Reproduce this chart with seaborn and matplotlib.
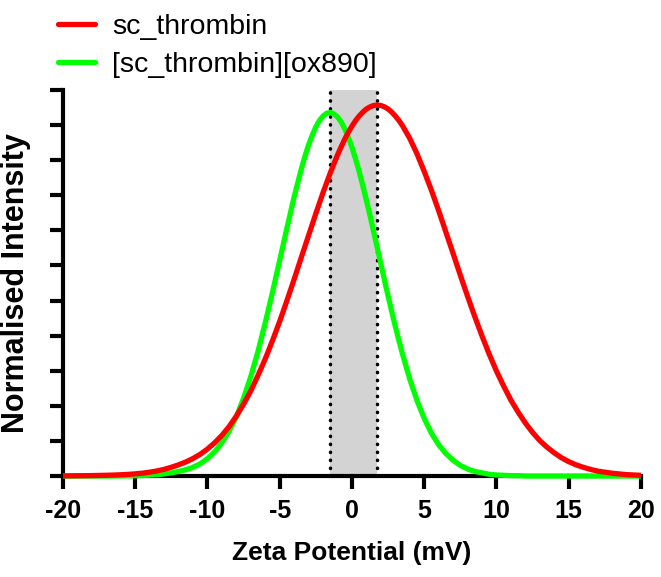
import matplotlib
matplotlib.use("Agg")
import matplotlib.pyplot as plt
from matplotlib.lines import Line2D
import seaborn as sns
import pandas as pd

# zeta potential grid (mV), finer around the peaks
zeta = [-20, -19.5, -19, -18.5, -18, -17.5, -17, -16.5, -16, -15.5, -15, -14.5, -14,
        -13.5, -13, -12.5, -12, -11.5, -11, -10.5, -10, -9.5, -9, -8.5, -8, -7.5, -7,
        -6.5, -6, -5.5, -5, -4.5, -4, -3.5,
        -3.25, -3, -2.75, -2.5, -2.25, -2, -1.75, -1.5, -1.25, -1, -0.75, -0.5, -0.25,
        0, 0.25, 0.5, 0.75, 1, 1.25, 1.5, 1.75, 2, 2.25, 2.5, 2.75, 3, 3.25,
        3.5, 4, 4.5, 5, 5.5, 6, 6.5, 7, 7.5, 8, 8.5, 9, 9.5, 10, 10.5, 11, 11.5, 12,
        12.5, 13, 13.5, 14, 14.5, 15, 15.5, 16, 16.5, 17, 17.5, 18, 18.5, 19, 19.5, 20]

sc_thrombin = [0.05, 0.06, 0.08, 0.1, 0.13, 0.17, 0.22, 0.28, 0.36, 0.47, 0.62, 0.82, 1.1,
               1.45, 1.9, 2.5, 3.2, 4.0, 5.0, 6.2, 7.7, 9.5, 11.6, 14.1, 17.1, 20.5, 24.3,
               28.7, 33.4, 38.6, 44.1, 50.0, 56.1, 62.4,
               65.5, 68.6, 71.7, 74.8, 77.8, 80.8, 83.6, 86.4, 89.0, 91.5, 93.8, 96.0, 98.0,
               99.7, 101.3, 102.6, 103.7, 104.6, 105.2, 105.6, 105.7, 105.6, 105.2, 104.6,
               103.7, 102.6, 101.3,
               99.8, 96.2, 91.8, 86.8, 81.4, 75.6, 69.5, 63.4, 57.2, 51.2, 45.4, 39.9, 34.7,
               29.9, 25.6, 21.6, 18.2, 15.1, 12.4, 10.1, 8.2, 6.6, 5.2, 4.1, 3.2, 2.5, 1.9,
               1.4, 1.1, 0.8, 0.6, 0.4, 0.3, 0.2]

sc_thrombin_ox890 = [0, 0, 0, 0, 0, 0, 0, 0.02, 0.03, 0.05, 0.08, 0.15, 0.25,
                     0.4, 0.6, 0.9, 1.3, 1.8, 2.5, 3.5, 5.0, 6.9, 9.5, 12.8, 16.9, 22.2, 28.4,
                     35.6, 43.7, 52.4, 61.5, 70.7, 79.6, 87.6,
                     91.2, 94.4, 97.1, 99.5, 101.3, 102.6, 103.4, 103.6, 103.2, 102.3, 100.9,
                     98.9, 96.5, 93.6, 90.3, 86.7, 82.7, 78.5, 74.2, 69.6, 65.1, 60.4, 55.8,
                     51.3, 46.9, 42.6, 38.6,
                     34.7, 27.6, 21.5, 16.4, 12.2, 8.9, 6.4, 4.5, 3.0, 2.0, 1.3, 0.9, 0.5,
                     0.3, 0.2, 0.1, 0.1, 0, 0, 0, 0, 0, 0, 0, 0, 0, 0, 0, 0, 0, 0, 0, 0, 0]

# peak positions marked by the dotted lines
peak_ox890 = -1.53
peak_sc = 1.74

labels = ["sc_thrombin", "[sc_thrombin][ox890]"]
colors = {"sc_thrombin": "#FF0000", "[sc_thrombin][ox890]": "#00FF00"}

df = pd.DataFrame({
    "zeta": zeta + zeta,
    "intensity": sc_thrombin + sc_thrombin_ox890,
    "sample": [labels[0]] * len(zeta) + [labels[1]] * len(zeta),
})

sns.set_style("ticks")
plt.rcParams["font.family"] = ["Liberation Sans", "Arial", "DejaVu Sans"]
plt.rcParams["text.color"] = "black"
plt.rcParams["axes.labelcolor"] = "black"
plt.rcParams["xtick.color"] = "black"
plt.rcParams["ytick.color"] = "black"

fig = plt.figure(figsize=(6.61, 5.77), dpi=100)
ax = fig.add_axes([0.0953, 0.175, 0.8744, 0.669])

ax.axvspan(peak_ox890, peak_sc, color="#D3D3D3", zorder=0, lw=0)
for xv in (peak_ox890, peak_sc):
    ax.axvline(xv, color="black", lw=2.5, ls=(0, (0.1, 2.2)),
               dash_capstyle="round", zorder=1)

# green drawn first so red sits on top
sns.lineplot(data=df, x="zeta", y="intensity", hue="sample",
             hue_order=[labels[1], labels[0]], palette=colors,
             linewidth=3.8, legend=False, ax=ax)
for ln in ax.get_lines()[-2:]:
    ln.set_clip_on(False)
    ln.set_zorder(4)
    ln.set_solid_capstyle("butt")

ax.set_xlim(-20, 20)
ax.set_ylim(0, 110)
ax.set_xticks(range(-20, 21, 5))
ax.set_yticks(range(0, 111, 10))
ax.set_yticklabels([])
ax.set_xticklabels([str(v) for v in range(-20, 21, 5)],
                   fontweight="bold", fontsize=18, color="black")

for side in ("top", "right"):
    ax.spines[side].set_visible(False)
for side in ("left", "bottom"):
    ax.spines[side].set_linewidth(3.0)
    ax.spines[side].set_color("black")
ax.tick_params(axis="both", length=9.5, width=3.0, color="black")
ax.tick_params(axis="x", pad=7)

ax.set_xlabel("Zeta Potential (mV)", fontweight="bold", fontsize=19,
              labelpad=13, color="black")
ax.set_ylabel("Normalised Intensity", fontweight="bold", fontsize=22,
              labelpad=10, color="black")

handles = [Line2D([], [], color=colors[l], lw=3.8) for l in labels]
leg = fig.legend(handles, labels, loc="upper left", bbox_to_anchor=(0.0877, 0.976),
                 frameon=False, fontsize=20.5, handlelength=1.3, handletextpad=0.6,
                 labelspacing=0.43, borderpad=0, borderaxespad=0)
for t in leg.get_texts():
    t.set_color("black")

fig.savefig("out.png", dpi=100)
